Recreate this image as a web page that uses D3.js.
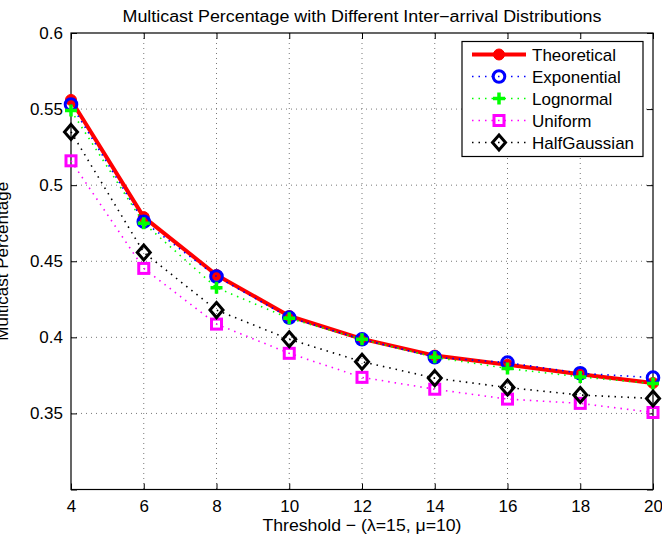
<!DOCTYPE html>
<html><head><meta charset="utf-8">
<script src="https://cdn.jsdelivr.net/npm/d3@7"></script>
<style>body{margin:0;background:#fff}svg{display:block}text{font-family:"Liberation Sans",Arial,Helvetica,sans-serif}</style>
</head><body><div id="chart"></div>
<script>
const thresholds = [4, 6, 8, 10, 12, 14, 16, 18, 20];
const theoretical = [0.556, 0.479, 0.441, 0.414, 0.399, 0.388, 0.382, 0.3757, 0.370];
const exponential = [0.553, 0.476, 0.440, 0.413, 0.3987, 0.3869, 0.3834, 0.3764, 0.3735];
const lognormal   = [0.549, 0.475, 0.4326, 0.4125, 0.3987, 0.3869, 0.3795, 0.3740, 0.3696];
const uniform     = [0.516, 0.4453, 0.4087, 0.3895, 0.3737, 0.3659, 0.3594, 0.3566, 0.3506];
const halfGaussian= [0.535, 0.4558, 0.4179, 0.3987, 0.384, 0.3732, 0.3670, 0.3621, 0.3598];
const seriesNames = ["Theoretical", "Exponential", "Lognormal", "Uniform", "HalfGaussian"];
const xTicks = [4, 6, 8, 10, 12, 14, 16, 18, 20];
const yTicks = [0.3, 0.35, 0.4, 0.45, 0.5, 0.55, 0.6];
const yTickLabels = ["", "0.35", "0.4", "0.45", "0.5", "0.55", "0.6"];
const titleText = "Multicast Percentage with Different Inter\u2212arrival Distributions";
const xLabel = "Threshold \u2212 (\u03bb=15, \u03bc=10)";
const yLabel = "Multicast Percentage";

const W = 662, H = 540;
const L = 71, R = 653, T = 33, B = 489.5;
const svg = d3.select("#chart").append("svg").attr("width", W).attr("height", H);
const x = d3.scaleLinear().domain([4, 20]).range([L, R]);
const y = d3.scaleLinear().domain([0.3, 0.6]).range([B, T]);

// grid
const grid = svg.append("g");
xTicks.slice(1, -1).forEach(t => grid.append("line").attr("x1", x(t)).attr("x2", x(t)).attr("y1", T).attr("y2", B)
  .attr("stroke", "#777").attr("stroke-width", 1).attr("stroke-dasharray", "1,4"));
yTicks.slice(1, -1).forEach(t => grid.append("line").attr("x1", L).attr("x2", R).attr("y1", y(t)).attr("y2", y(t))
  .attr("stroke", "#777").attr("stroke-width", 1).attr("stroke-dasharray", "1,4"));

// axes with inward ticks
const ax = svg.append("g").attr("transform", `translate(0,${B})`)
  .call(d3.axisBottom(x).tickValues(xTicks).tickSizeInner(-6).tickSizeOuter(0).tickPadding(10));
const ay = svg.append("g").attr("transform", `translate(${L},0)`)
  .call(d3.axisLeft(y).tickValues(yTicks).tickFormat((d, i) => yTickLabels[i]).tickSizeInner(-6).tickSizeOuter(0).tickPadding(8));
const axT = svg.append("g").attr("transform", `translate(0,${T})`)
  .call(d3.axisTop(x).tickValues(xTicks).tickFormat("").tickSizeInner(-6).tickSizeOuter(0));
const ayR = svg.append("g").attr("transform", `translate(${R},0)`)
  .call(d3.axisRight(y).tickValues(yTicks).tickFormat("").tickSizeInner(-6).tickSizeOuter(0));
[ax, ay, axT, ayR].forEach(g => {
  g.select(".domain").remove();
  g.selectAll("line").attr("stroke", "#000").attr("stroke-width", 1);
  g.selectAll("text").attr("font-size", 17).attr("fill", "#000").style("font-family", '"Liberation Sans",Arial,sans-serif');
});
svg.append("rect").attr("x", L).attr("y", T).attr("width", R - L).attr("height", B - T)
  .attr("fill", "none").attr("stroke", "#000").attr("stroke-width", 1.2);

// titles
svg.append("text").attr("x", (L + R) / 2).attr("y", 22).attr("text-anchor", "middle").attr("font-size", 16)
  .attr("textLength", 479).attr("lengthAdjust", "spacingAndGlyphs").text(titleText);
svg.append("text").attr("x", (L + R) / 2).attr("y", 531).attr("text-anchor", "middle").attr("font-size", 17)
  .attr("textLength", 199).attr("lengthAdjust", "spacingAndGlyphs").text(xLabel);
svg.append("text").attr("transform", `translate(7.5,${(T + B) / 2}) rotate(-90)`).attr("text-anchor", "middle").attr("font-size", 17).text(yLabel);

// series styles
const styles = [
  {data: theoretical, color: "#ff0000", width: 4, dash: null, marker: "dot"},
  {data: exponential, color: "#0000ff", width: 1.6, dash: "1.5,5", marker: "circle"},
  {data: lognormal, color: "#00ff00", width: 1.6, dash: "1.5,5", marker: "plus"},
  {data: uniform, color: "#ff00ff", width: 1.6, dash: "1.5,5", marker: "square"},
  {data: halfGaussian, color: "#000000", width: 1.6, dash: "1.5,5", marker: "diamond"}
];

function drawMarker(g, type, cx, cy, color) {
  if (type === "dot") g.append("circle").attr("cx", cx).attr("cy", cy).attr("r", 5.5).attr("fill", color).attr("stroke", color).attr("stroke-width", 1);
  else if (type === "circle") g.append("circle").attr("cx", cx).attr("cy", cy).attr("r", 5.8).attr("fill", "none").attr("stroke", color).attr("stroke-width", 3);
  else if (type === "plus") g.append("path").attr("d", `M${cx - 6},${cy}H${cx + 6}M${cx},${cy - 6}V${cy + 6}`).attr("stroke", color).attr("stroke-width", 3.5).attr("fill", "none");
  else if (type === "square") g.append("rect").attr("x", cx - 5).attr("y", cy - 5).attr("width", 10).attr("height", 10).attr("fill", "none").attr("stroke", color).attr("stroke-width", 3);
  else if (type === "diamond") g.append("path").attr("d", `M${cx},${cy - 7.5}L${cx + 6.5},${cy}L${cx},${cy + 7.5}L${cx - 6.5},${cy}Z`).attr("fill", "none").attr("stroke", color).attr("stroke-width", 3);
}

const line = d3.line().x((d, i) => x(thresholds[i])).y(d => y(d));
styles.forEach(s => {
  const g = svg.append("g");
  g.append("path").datum(s.data).attr("d", line).attr("fill", "none").attr("stroke", s.color)
    .attr("stroke-width", s.width).attr("stroke-dasharray", s.dash).attr("stroke-linejoin", "round");
  s.data.forEach((v, i) => drawMarker(g, s.marker, x(thresholds[i]), y(v), s.color));
});

// legend
const lg = svg.append("g");
lg.append("rect").attr("x", 462).attr("y", 41.5).attr("width", 181).attr("height", 115).attr("fill", "#fff").attr("stroke", "#000").attr("stroke-width", 1.2);
styles.forEach((s, i) => {
  const cy = 54.5 + i * 22;
  lg.append("line").attr("x1", 472).attr("x2", 526).attr("y1", cy).attr("y2", cy).attr("stroke", s.color)
    .attr("stroke-width", s.width).attr("stroke-dasharray", s.dash);
  drawMarker(lg, s.marker, 499, cy, s.color);
  lg.append("text").attr("x", 532).attr("y", cy + 6).attr("font-size", 17).text(seriesNames[i]);
});
</script></body></html>
